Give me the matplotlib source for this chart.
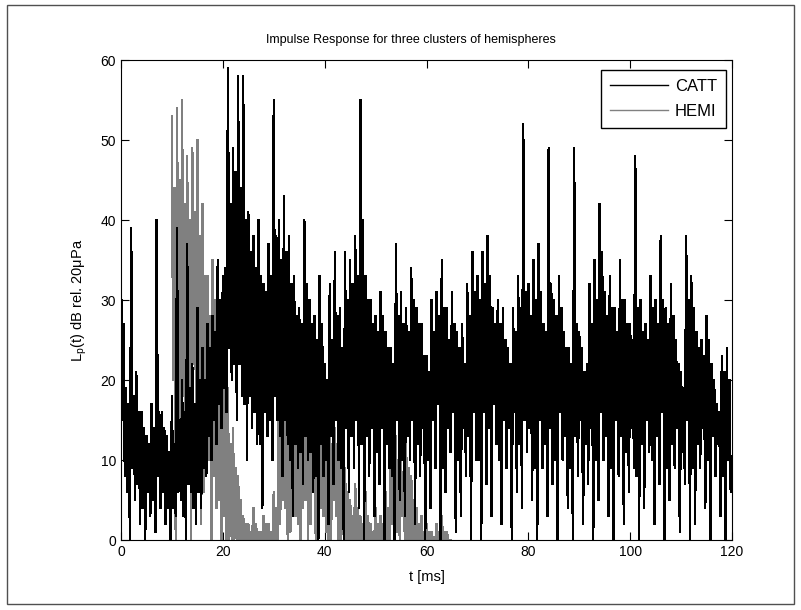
import numpy as np
import matplotlib
matplotlib.use('Agg')
import matplotlib.pyplot as plt
from matplotlib.patches import Rectangle

plt.rcParams['font.family'] = ['Liberation Sans', 'DejaVu Sans']

# CATT, four readings per millisecond k:
# peak at k, body bottom at k+0.25, body top at k+0.5, dip at k+0.75
catt_peak = [35, 19, 39, 21, 16, 13, 17, 40, 16, 13,
             18, 39, 20, 37, 22, 29, 24, 27, 28, 35,
             33, 59, 49, 58, 58, 41, 38, 40, 32, 37,
             55, 40, 43, 38, 33, 29, 40, 30, 28, 33,
             22, 32, 36, 29, 36, 35, 38, 55, 33, 30,
             28, 31, 26, 24, 37, 31, 29, 34, 29, 27,
             23, 30, 31, 35, 29, 31, 26, 27, 32, 36,
             33, 36, 38, 29, 30, 29, 24, 29, 33, 52,
             32, 35, 37, 27, 49, 30, 33, 26, 24, 49,
             26, 21, 32, 35, 42, 31, 33, 29, 35, 30,
             27, 48, 30, 27, 33, 30, 38, 29, 32, 25,
             21, 38, 33, 26, 25, 28, 22, 17, 23, 24]
catt_lower = [15, 6, 9, 7, 4, 6, 5, 8, 6, 4,
              4, 6, 3, 7, 4, 6, 9, 13, 15, 17,
              19, 24, 22, 22, 17, 18, 16, 12, 16, 15,
              18, 13, 15, 10, 12, 11, 13, 11, 8, 12,
              10, 13, 15, 9, 14, 13, 15, 12, 13, 14,
              11, 14, 12, 8, 15, 10, 13, 15, 12, 14,
              10, 15, 17, 9, 14, 16, 10, 14, 13, 16,
              10, 16, 14, 17, 10, 15, 14, 16, 12, 15,
              14, 9, 15, 12, 14, 10, 16, 13, 9, 13,
              15, 12, 14, 10, 16, 13, 9, 15, 13, 11,
              14, 8, 12, 15, 10, 13, 16, 9, 12, 14,
              11, 15, 9, 12, 14, 10, 13, 12, 8, 10]
catt_upper = [27, 17, 18, 16, 14, 12, 14, 16, 14, 11,
              12, 15, 16, 19, 17, 20, 20, 24, 26, 30,
              34, 42, 46, 44, 40, 36, 34, 33, 31, 33,
              38, 35, 36, 32, 28, 27, 32, 27, 25, 27,
              20, 25, 28, 24, 30, 32, 33, 40, 30, 27,
              26, 28, 24, 22, 28, 27, 26, 30, 27, 23,
              21, 26, 28, 29, 25, 27, 24, 22, 28, 31,
              30, 32, 33, 27, 27, 25, 22, 26, 29, 31,
              28, 30, 31, 26, 32, 28, 29, 24, 22, 27,
              24, 22, 27, 30, 36, 28, 29, 26, 30, 27,
              25, 29, 26, 25, 29, 27, 30, 27, 28, 22,
              19, 30, 29, 24, 23, 25, 20, 16, 21, 20]
catt_dip = [8, 0, 5, 2, 0, 3, 1, 4, 2, 0,
            3, 5, 0, 6, 2, 4, 8, 10, 12, 14,
            16, 20, 15, 18, 10, 14, 12, 4, 13, 10,
            15, 8, 12, 3, 9, 7, 10, 6, 0, 8,
            2, 7, 10, 0, 6, 9, 4, 0, 8, 3,
            7, 0, 9, 0, 5, 3, 10, 2, 8, 0,
            4, 9, 0, 6, 11, 1, 3, 8, 0, 10,
            0, 7, 3, 12, 2, 9, 0, 6, 4, 11,
            5, 0, 9, 3, 7, 0, 10, 4, 0, 8,
            2, 7, 0, 5, 10, 3, 0, 8, 2, 6,
            9, 0, 4, 11, 2, 7, 0, 5, 9, 1,
            7, 0, 2, 9, 4, 0, 8, 3, 0, 6]

# HEMI, same layout, milliseconds 10 .. 64
hemi_start = 10
hemi_peak = [53, 54, 55, 48, 49, 50, 42, 33, 35, 33,
             26, 19, 14, 8, 3, 2, 4, 1, 3, 2,
             6, 17, 18, 16, 17, 15, 17, 15, 16, 14,
             15, 13, 14, 12, 9, 5, 7, 3, 6, 2,
             4, 3, 6, 11, 13, 10, 12, 8, 4, 3,
             2, 1, 2, 3, 1]
hemi_lower = [20, 25, 18, 12, 22, 15, 6, 10, 8, 5,
              3, 0, 0, 0, 0, 0, 0, 0, 0, 0,
              0, 2, 4, 1, 3, 0, 5, 2, 0, 4,
              1, 0, 3, 0, 0, 0, 0, 0, 0, 0,
              0, 0, 0, 2, 1, 3, 0, 0, 0, 0,
              0, 0, 0, 0, 0]
hemi_upper = [44, 45, 42, 40, 41, 38, 33, 28, 30, 27,
              20, 12, 9, 5, 2, 1, 2, 1, 2, 1,
              4, 14, 15, 14, 15, 14, 15, 13, 14, 13,
              13, 12, 12, 10, 6, 3, 4, 2, 3, 1,
              2, 2, 4, 8, 10, 8, 9, 5, 2, 1,
              1, 0, 1, 1, 0]
hemi_dip = [0, 8, 3, 0, 12, 2, 9, 0, 4, 0,
            0, 0, 0, 0, 0, 0, 0, 0, 0, 0,
            0, 5, 0, 6, 2, 4, 0, 7, 1, 3,
            0, 5, 0, 2, 0, 0, 0, 0, 0, 0,
            0, 0, 0, 0, 0, 0, 0, 0, 0, 0,
            0, 0, 0, 0, 0]

x_ticks = [0, 20, 40, 60, 80, 100, 120]
y_ticks = [0, 10, 20, 30, 40, 50, 60]


def trace(start, peak, lower, upper, dip):
    n = len(peak)
    k = np.arange(n) + start
    t = np.column_stack([k, k + 0.25, k + 0.5, k + 0.75]).ravel()
    v = np.column_stack([peak, lower, upper, dip]).ravel()
    return t, v


t_catt, l_catt = trace(0, catt_peak, catt_lower, catt_upper, catt_dip)
t_hemi, l_hemi = trace(hemi_start, hemi_peak, hemi_lower, hemi_upper, hemi_dip)

fig = plt.figure(figsize=(8.01, 6.10), dpi=100)
ax = fig.add_axes([121 / 801, 1 - 540 / 610, 611 / 801, 480 / 610])

h_hemi, = ax.plot(t_hemi, l_hemi, color='#808080', lw=1.0, antialiased=False)
h_catt, = ax.plot(t_catt, l_catt, color='black', lw=1.0, antialiased=False)

ax.set_xlim(0, 120)
ax.set_ylim(0, 60)
ax.set_xticks(x_ticks)
ax.set_yticks(y_ticks)
ax.tick_params(direction='in', length=6, width=0.8, top=True, right=True, labelsize=10)
for s in ax.spines.values():
    s.set_linewidth(0.8)

ax.set_title('Impulse Response for three clusters of hemispheres', fontsize=9,
             x=(266 - 121) / 611, ha='left', pad=12)
ax.set_xlabel('t [ms]', fontsize=10.5, labelpad=8)
ax.set_ylabel(r'L$_\mathregular{p}$(t) dB rel. 20μPa', fontsize=10.5, labelpad=8)

ax.legend([h_catt, h_hemi], ['CATT', 'HEMI'], loc='upper right', fontsize=12,
          handlelength=3.5, handletextpad=0.4, labelspacing=0.6, borderpad=0.55,
          fancybox=False, framealpha=1, edgecolor='black',
          bbox_to_anchor=(726 / 801, 1 - 70 / 610), bbox_transform=fig.transFigure,
          borderaxespad=0)

fig.patches.append(Rectangle((7 / 801, 6 / 610), 787 / 801, 599 / 610,
                             transform=fig.transFigure, fill=False,
                             edgecolor='#505050', lw=1))

fig.savefig('out.png', dpi=100)
